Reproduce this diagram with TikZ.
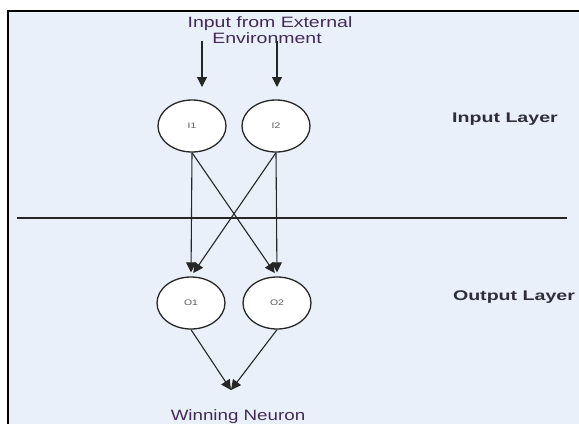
\documentclass[tikz,border=0pt]{standalone}
\usepackage{fontspec}
\setmainfont{Liberation Sans}
\usepackage{graphicx}
\usetikzlibrary{shapes.geometric}
\usetikzlibrary{arrows.meta}
\definecolor{paneblue}{RGB}{234,240,250}
\definecolor{inkpurple}{RGB}{66,42,88}
\definecolor{inkgrey}{RGB}{46,46,56}
\newcommand{\widetext}[2]{\scalebox{#1}[1]{#2}}
\tikzstyle{neuron} = [draw=black!85, fill=white, ellipse, line width=1.3pt, minimum width=68pt, minimum height=52pt, inner sep=0pt, text=black!65, font=\fontsize{8}{9}\selectfont]
\tikzstyle{link} = [line width=1.1pt, draw=black!85, -{Triangle[length=10pt,width=10pt]}]
\tikzstyle{caption} = [inner sep=0pt, anchor=base, text=inkpurple, font=\fontsize{15}{16}\selectfont]
\tikzstyle{layername} = [inner sep=0pt, anchor=base, text=inkgrey, font=\bfseries\fontsize{14}{16}\selectfont]

\begin{document}
\begin{tikzpicture}[x=1pt, y=-1pt]
\useasboundingbox (0,0) rectangle (579,424);
% panel and frame
\fill[paneblue] (8,11) rectangle (579,424);
\draw[line width=2.6pt] (579,11) -- (8,11) -- (8,424);
\draw[line width=1.8pt, black!85] (17,218) -- (567,218);

% texts
\node[caption] (envtop) at (270,27) {\widetext{1.3}{Input from External}};
\node[caption] (envbot) at (267,43) {\widetext{1.3}{Environment}};
\node[layername] (inlayer) at (505,122) {\widetext{1.4}{Input Layer}};
\node[layername] (outlayer) at (514,300) {\widetext{1.4}{Output Layer}};
\node[caption] (winner) at (238,420) {\widetext{1.25}{Winning Neuron}};

% neurons
\node[neuron] (I1) at (192,126) {\widetext{1.3}{I1}};
\node[neuron] (I2) at (276,126) {\widetext{1.3}{I2}};
\node[neuron] (O1) at (191,303) {\widetext{1.3}{O1}};
\node[neuron] (O2) at (277,303) {\widetext{1.3}{O2}};

\coordinate (src1) at (202,41);
\coordinate (src2) at (277,41);
\coordinate (dst1) at (202,87);
\coordinate (dst2) at (277,87);
\coordinate (win) at (231,390);

\draw[link] (src1) -- (dst1);
\draw[link] (src2) -- (dst2);
\draw[link, shorten >=4pt] (I1.south) -- (O1.north);
\draw[link, shorten >=4pt] (I1.south) -- (O2.north);
\draw[link, shorten >=4pt] (I2.south) -- (O1.north);
\draw[link, shorten >=4pt] (I2.south) -- (O2.north);
\draw[link] (O1.south) -- (win);
\draw[link] (O2.south) -- (win);
\end{tikzpicture}
\end{document}
